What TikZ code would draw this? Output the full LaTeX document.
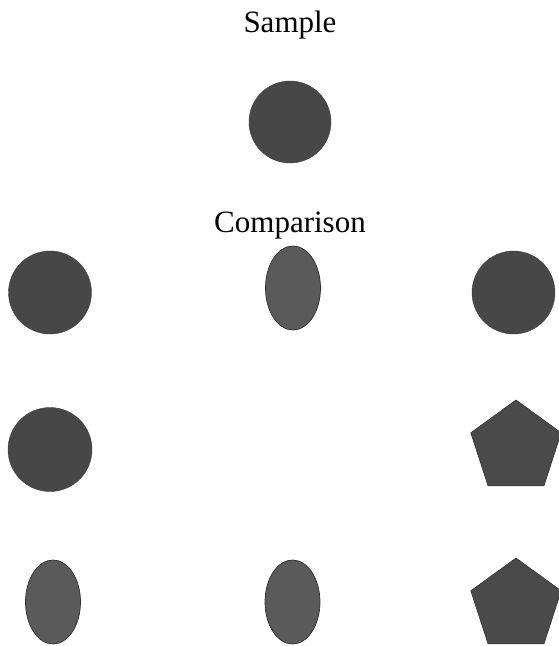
\documentclass[tikz,border=0pt]{standalone}
\usepackage{fontspec}
\setmainfont{Liberation Serif}
\usetikzlibrary{shapes.geometric}
\definecolor{circfill}{HTML}{474747}
\definecolor{ellfill}{HTML}{5A5A5A}
\definecolor{pentfill}{HTML}{4A4A4A}
\definecolor{edgec}{HTML}{2E2E2E}
\tikzset{
  x=1pt, y=-1pt,
  title/.style={font=\fontsize{31}{37}\selectfont, anchor=base, inner sep=0pt},
  disc/.style={circle, fill=circfill, draw=circfill!90!black, line width=0.4pt, inner sep=0pt, minimum size=#1},
  oval/.style={ellipse, fill=ellfill, draw=edgec, line width=0.7pt, inner sep=0pt, minimum width=55pt, minimum height=84pt},
  penta/.style={regular polygon, regular polygon sides=5, fill=pentfill, draw=edgec, line width=0.6pt, inner sep=0pt, minimum size=95pt}
}
\begin{document}
\begin{tikzpicture}
\useasboundingbox (0,0) rectangle (558,646);
\node[title] (sample) at (290,32) {Sample};
\node[disc=82pt] (s) at (290,122) {};
\node[title] (comp) at (290,232) {Comparison};
\node[disc=83pt] (a1) at (50,292.5) {};
\node[oval] (a2) at (293,288) {};
\node[disc=83pt] (a3) at (513.5,292.5) {};
\node[disc=84pt] (b1) at (50,449.5) {};
\node[penta] (b3) at (516,447.5) {};
\node[oval] (c1) at (53,602) {};
\node[oval] (c2) at (292.5,602) {};
\node[penta] (c3) at (516,605.5) {};
\end{tikzpicture}
\end{document}
